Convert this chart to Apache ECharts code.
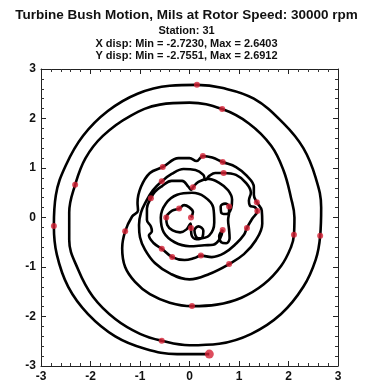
<!DOCTYPE html>
<html><head><meta charset="utf-8">
<script src="https://cdn.jsdelivr.net/npm/echarts@6/dist/echarts.min.js"></script>
<style>html,body{margin:0;padding:0;background:#fff}#c{width:373px;height:385px}</style>
</head><body><div id="c"></div>
<script>
const titleText = 'Turbine Bush Motion, Mils at Rotor Speed: 30000 rpm';
const subLines = ['Station: 31','X disp: Min = -2.7230, Max = 2.6403','Y disp: Min = -2.7551, Max = 2.6912'];
const axisTicks = [-3,-2,-1,0,1,2,3];

// inner flower (time order)
const flower = [
 [0.03,0.00],[0.07,0.11],[-0.01,0.21],[-0.11,0.25],[-0.21,0.18],[-0.35,0.14],[-0.45,0.05],[-0.47,0.00],[-0.45,-0.15],[-0.34,-0.26],[-0.19,-0.30],[-0.06,-0.24],[0.02,-0.12],
 [0.03,-0.21],[0.04,-0.35],[0.14,-0.44],[0.26,-0.40],[0.28,-0.27],[0.18,-0.18],[0.10,-0.26],[0.18,-0.42],
 [0.40,-0.36],[0.50,-0.10],[0.48,0.20],[0.30,0.42],[0.05,0.50],[-0.25,0.46],[-0.48,0.28],[-0.58,0.00],[-0.52,-0.30],[-0.30,-0.50],[0.00,-0.58],[0.30,-0.56],
 [0.48,-0.55],[0.62,-0.42],[0.67,-0.25],[0.60,-0.38],[0.64,-0.50],[0.74,-0.52],[0.81,-0.42],[0.80,-0.25],[0.78,-0.05],
 [0.80,0.10],[0.80,0.22],[0.72,0.28],[0.63,0.22],[0.64,0.10],[0.74,0.07],[0.84,0.18],[0.86,0.36],[0.78,0.55],[0.60,0.70],[0.38,0.78],[0.18,0.72],
 [0.07,0.61],[0.03,0.56],[-0.02,0.62],[-0.15,0.74],[-0.36,0.74],[-0.56,0.63],[-0.70,0.52],[-0.78,0.39],[-0.86,0.18],[-0.86,-0.05],
 [-0.78,-0.18],[-0.76,-0.28],[-0.82,-0.36],[-0.72,-0.52],[-0.56,-0.63],[-0.35,-0.80],[-0.10,-0.86],[0.10,-0.82],[0.23,-0.77],
 [0.45,-0.80],[0.70,-0.72],[0.95,-0.52],[1.10,-0.35],[1.16,-0.21],[1.27,-0.02],[1.37,0.13],[1.32,0.21],[1.22,0.24],[1.20,0.34],[1.24,0.50],[1.14,0.70],[0.94,0.86],[0.69,0.90],
 [0.52,0.90],[0.40,0.84],[0.32,0.76],[0.28,0.86],[0.12,0.96],[-0.12,0.98],[-0.36,0.88],[-0.56,0.73],[-0.74,0.55],[-0.88,0.32],[-0.98,0.10],[-1.02,-0.15],[-1.00,-0.40],
 [-0.90,-0.65],[-0.70,-0.92],[-0.38,-1.14],[0.00,-1.25],[0.40,-1.14],[0.80,-0.94],
 [1.10,-0.74],[1.34,-0.46],[1.47,-0.12],[1.46,0.14],[1.36,0.31],[1.30,0.46],[1.30,0.62],[1.16,0.84],[0.94,1.02],[0.67,1.12],[0.46,1.21],[0.27,1.24],
 [0.14,1.14],[0.00,1.20],[-0.22,1.20],[-0.54,1.02]
];
// outer spiral arm (time order, anticlockwise)
const spiral = [
 [-0.54,1.02],[-0.80,0.90],[-0.98,0.62],[-1.05,0.30],[-1.04,0.14],[-1.16,0.02],[-1.30,-0.28],[-1.36,-0.62],[-1.30,-1.00],[-1.10,-1.30],[-0.80,-1.55],[-0.40,-1.72],
 [0.05,-1.79],[0.55,-1.76],[1.05,-1.62],[1.50,-1.35],[1.85,-0.98],[2.05,-0.60],[2.11,-0.35],[2.12,0.00],[2.05,0.40],[1.90,0.95],[1.65,1.45],[1.20,1.90],
 [0.66,2.19],[0.00,2.32],[-0.60,2.28],[-1.20,2.05],[-1.75,1.65],[-2.10,1.20],[-2.31,0.66],[-2.43,0.10],[-2.43,-0.45],[-2.25,-1.05],[-1.95,-1.60],[-1.50,-2.05],[-1.00,-2.35],
 [-0.56,-2.49],[0.00,-2.58],[0.60,-2.55],[1.25,-2.35],[1.85,-1.95],[2.30,-1.40],[2.55,-0.85],[2.64,-0.37],[2.66,0.20],[2.55,0.80],[2.30,1.40],[1.90,1.90],[1.30,2.40],[0.65,2.62],
 [0.15,2.68],[-0.40,2.66],[-1.05,2.50],[-1.65,2.15],[-2.15,1.65],[-2.50,1.05],[-2.70,0.45],[-2.74,-0.17],[-2.68,-0.75],[-2.45,-1.40],[-2.05,-1.95],[-1.50,-2.40],[-0.90,-2.65],[-0.25,-2.76],[0.40,-2.76]
];
// once-per-revolution marks
const marks = [
 [0.27,1.24],[0.67,1.12],[-0.54,1.02],[0.69,0.90],[-0.56,0.73],[0.07,0.61],[-0.78,0.39],[0.80,0.22],[1.36,0.31],[1.37,0.13],
 [-0.21,0.18],[-0.47,0.00],[0.03,0.00],[0.03,-0.21],[0.67,-0.25],[1.16,-0.21],[-1.30,-0.28],[-0.56,-0.63],[-0.35,-0.80],[0.23,-0.77],[0.80,-0.94],
 [0.05,-1.79],[2.11,-0.35],[0.66,2.19],[-2.31,0.66],[-0.56,-2.49],[2.64,-0.37],[0.15,2.68],[-2.74,-0.17]
];
const endMark = [[0.40,-2.76]];

const chart = echarts.init(document.getElementById('c'));
const F = 'Liberation Sans, Arial, sans-serif';
const ax = (pos, show) => ({
  type:'value', min:-3, max:3, interval:1, position:pos,
  axisLine:{show:true,onZero:false,lineStyle:{color:'#222',width:1}},
  axisTick:{show:true,inside:true,length:5,lineStyle:{color:'#222'}},
  minorTick:{show:true,splitNumber:5,length:3,lineStyle:{color:'#333'}},
  splitLine:{show:false},
  axisLabel:{show:show,color:'#111',fontFamily:F,fontWeight:'bold',fontSize:12,margin:5,
    formatter:v=>axisTicks.includes(v)?String(v):''}
});
chart.setOption({
  animation:false,
  title:[
    {text:titleText,left:'center',top:3,textStyle:{fontFamily:F,fontWeight:'bold',fontSize:13.5,color:'#111'}},
    {text:subLines.join('\n'),left:'center',top:20,textStyle:{fontFamily:F,fontWeight:'bold',fontSize:11,color:'#111',lineHeight:12.5}}
  ],
  grid:{left:41,right:35,top:69,bottom:19,show:false},
  xAxis:[ax('bottom',true),ax('top',false)],
  yAxis:[ax('left',true),ax('right',false)],
  series:[
    {type:'line',data:flower.concat(spiral.slice(1)),smooth:0.4,showSymbol:false,lineStyle:{color:'#000',width:2.6},z:2},
    {type:'scatter',data:marks,symbolSize:6,itemStyle:{color:'#d42035'},z:3},
    {type:'scatter',data:endMark,symbolSize:9,itemStyle:{color:'#d42035'},z:3}
  ]
});
</script></body></html>
